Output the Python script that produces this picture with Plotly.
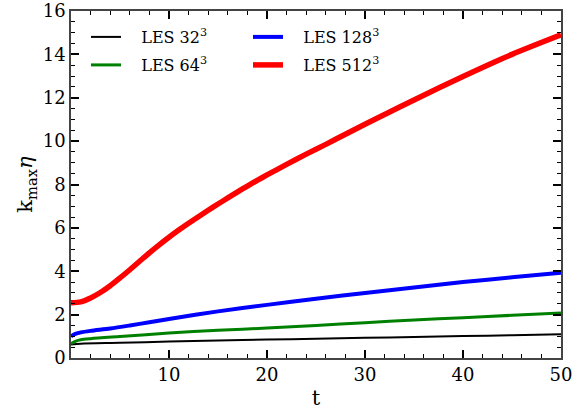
import plotly.graph_objects as go

# ---- data ----
t_32 = [0, 1, 5, 10, 15, 20, 25, 30, 35, 40, 45, 50]
k_32 = [0.62, 0.66, 0.70, 0.76, 0.81, 0.85, 0.89, 0.93, 0.97, 1.01, 1.05, 1.09]

t_64 = [0, 0.5, 1, 2, 5, 10, 15, 20, 25, 30, 35, 40, 45, 50]
k_64 = [0.66, 0.78, 0.84, 0.89, 0.99, 1.15, 1.28, 1.38, 1.50, 1.63, 1.75, 1.86, 1.97, 2.07]

t_128 = [0, 0.5, 1, 2, 4, 6, 8, 10, 15, 20, 25, 30, 35, 40, 45, 50]
k_128 = [1.00, 1.12, 1.18, 1.25, 1.36, 1.50, 1.65, 1.80, 2.15, 2.45, 2.73, 3.00, 3.25, 3.50, 3.72, 3.93]

t_512 = [0, 1, 2, 3, 4, 5, 6, 7, 8, 9, 10, 11, 12, 13, 14, 15, 16, 17, 18, 19,
         20, 22, 24, 26, 28, 30, 32, 35, 40, 45, 50]
k_512 = [2.55, 2.59, 2.77, 3.02, 3.33, 3.69, 4.07, 4.46, 4.85, 5.22, 5.57, 5.90,
         6.21, 6.51, 6.81, 7.10, 7.38, 7.66, 7.93, 8.19, 8.44, 8.93, 9.40, 9.85,
         10.32, 10.78, 11.23, 11.90, 12.98, 14.00, 14.90]

labels = ["LES 32<sup>3</sup>", "LES 64<sup>3</sup>", "LES 128<sup>3</sup>", "LES 512<sup>3</sup>"]
colors = ["black", "#008000", "#0000ff", "#ff0000"]
widths = [2, 3, 4, 5.5]
series = [(t_32, k_32), (t_64, k_64), (t_128, k_128), (t_512, k_512)]
legend_ids = ["legend", "legend2", "legend3", "legend4"]

W, H = 575, 414
L, R, T, B = 71, 14, 11, 56
PW, PH = W - L - R, H - T - B
FONT = "DejaVu Serif, serif"

fig = go.Figure()
for (tx, ky), lab, c, w, lg in zip(series, labels, colors, widths, legend_ids):
    fig.add_trace(go.Scatter(
        x=tx, y=ky, mode="lines", name="\u00a0\u00a0\u00a0" + lab,
        line=dict(color=c, width=w, shape="spline", smoothing=0.8),
        legend=lg,
    ))

# legend positions (pixels in the page, converted to paper coords)
leg_pos = {"legend": (86, 37), "legend2": (86, 65), "legend3": (248, 37), "legend4": (248, 65)}
leg_layout = {}
for k, (px, py) in leg_pos.items():
    leg_layout[k] = dict(
        x=(px - L) / PW, y=(H - B - py) / PH,
        xanchor="left", yanchor="middle",
        bgcolor="rgba(0,0,0,0)", borderwidth=0,
        font=dict(family=FONT, size=16, color="black"),
    )

axis_common = dict(
    showgrid=False, zeroline=False,
    showline=True, linecolor="#444", linewidth=1.5, mirror="ticks",
    ticks="inside", ticklen=8, tickwidth=1.5, tickcolor="black",
    ticklabeloverflow="allow",
    tickfont=dict(family=FONT, size=18, color="black"),
)

fig.update_layout(
    width=W, height=H,
    margin=dict(l=L, r=R, t=T, b=B, autoexpand=False),
    paper_bgcolor="white", plot_bgcolor="white",
    font=dict(family=FONT),
    showlegend=True,
    xaxis=dict(range=[0, 50], tickvals=[10, 20, 30, 40, 50],
               minor=dict(ticks="inside", dtick=2, tick0=0, ticklen=4, tickwidth=1, tickcolor="black"),
               title=dict(text="t", font=dict(family=FONT, size=21, color="black"), standoff=6),
               **axis_common),
    yaxis=dict(range=[0, 16], tickvals=[0, 2, 4, 6, 8, 10, 12, 14, 16],
               minor=dict(ticks="inside", dtick=0.5, tick0=0, ticklen=4, tickwidth=1, tickcolor="black"),
               title=dict(text="k<sub>max</sub><i>η</i>", font=dict(family=FONT, size=21, color="black"), standoff=4),
               **axis_common),
    **leg_layout,
)

fig.write_html("out.html", config={"displayModeBar": False},
               post_script="document.body.style.margin='0';")
